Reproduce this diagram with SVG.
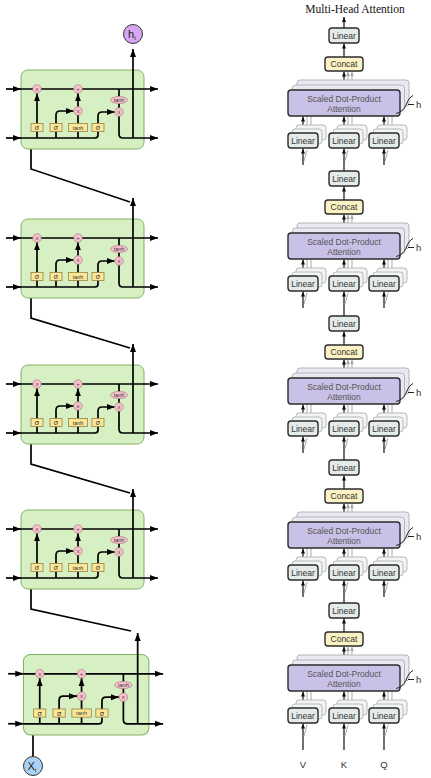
<svg xmlns="http://www.w3.org/2000/svg" width="431" height="778" viewBox="0 0 431 778">
<defs>
<marker id="a" viewBox="0 0 8 6" refX="8" refY="3" markerWidth="8" markerHeight="6.5" orient="auto" markerUnits="userSpaceOnUse"><path d="M0,0L8,3L0,6z" fill="#000"/></marker>
<marker id="s" viewBox="0 0 6 5" refX="6" refY="2.5" markerWidth="5" markerHeight="4.5" orient="auto" markerUnits="userSpaceOnUse"><path d="M0,0L6,2.5L0,5z" fill="#111"/></marker>
<marker id="g" viewBox="0 0 6 5" refX="6" refY="2.5" markerWidth="4.5" markerHeight="4" orient="auto" markerUnits="userSpaceOnUse"><path d="M0,0L6,2.5L0,5z" fill="#aaa"/></marker>
</defs>
<style>
.ln{fill:none;stroke:#000;stroke-width:1.7}
.cb{fill:#d7f0c3;stroke:#82b062;stroke-width:1}
.gb{fill:#fbe797;stroke:#9c8240;stroke-width:0.8}
.op{fill:#f5c3cd;stroke:#b27886;stroke-width:0.7}
.gt{font-family:"Liberation Sans",Arial,sans-serif;font-size:7px;fill:#222;text-anchor:middle}
.ot{font-family:"Liberation Sans",Arial,sans-serif;font-size:6px;fill:#6a3a44;text-anchor:middle}
.tt{font-family:"Liberation Sans",Arial,sans-serif;font-size:5.5px;fill:#333;text-anchor:middle}
.al{fill:none;stroke:#111;stroke-width:1.2}
.ag{fill:none;stroke:#aaa;stroke-width:1}
.lin{fill:#e4ebe8;stroke:#2b2b2b;stroke-width:1.4}
.linb{fill:#f3f5f4;stroke:#b8b8b8;stroke-width:1}
.cc{fill:#fbf3c3;stroke:#2b2b2b;stroke-width:1.4}
.att{fill:#c9c1e7;stroke:#2b2b2b;stroke-width:1.4}
.attb{fill:#ebe8f5;stroke:#b5b5b5;stroke-width:1}
.lt{font-family:"Liberation Sans",Arial,sans-serif;font-size:8.5px;fill:#333;text-anchor:middle}
.at{font-family:"Liberation Sans",Arial,sans-serif;font-size:8.5px;fill:#555;text-anchor:middle}
.hb{fill:none;stroke:#222;stroke-width:1}
.hl{font-family:"Liberation Sans",Arial,sans-serif;font-size:9.5px;fill:#333}
.ttl{font-family:"Liberation Serif","Times New Roman",serif;font-size:11.5px;fill:#111;text-anchor:middle}
.io{font-family:"Liberation Sans",Arial,sans-serif;font-size:11px;fill:#222}
</style>

<g id="connectors">
<path class="ln" d="M31,138V169L130,202"/>
<path class="ln" d="M31,287V318L130,348"/>
<path class="ln" d="M31,433V464L130,493"/>
<path class="ln" d="M31,578V609L131,631"/>
<path class="ln" d="M33,756.5V724"/>
<path class="al" d="M344,28V17" marker-end="url(#s)"/>
<path class="al" d="M344,171V148.6" marker-end="url(#s)"/>
<path class="al" d="M344,316V291.6" marker-end="url(#s)"/>
<path class="al" d="M344,460V436.6" marker-end="url(#s)"/>
<path class="al" d="M344,603V580.6" marker-end="url(#s)"/>
<path class="al" d="M303,750V723.6" marker-end="url(#s)"/>
<path class="al" d="M344,750V723.6" marker-end="url(#s)"/>
<path class="al" d="M384,750V723.6" marker-end="url(#s)"/>
<g id="mha1-links">
<path class="al" d="M344,57V43.6" marker-end="url(#s)"/><path class="al" d="M344,90V71.6" marker-end="url(#s)"/>
<path class="ag" d="M348,85V71.6" marker-end="url(#g)"/><path class="ag" d="M352,80V71.6" marker-end="url(#g)"/>
<path class="ag" d="M307,129V116M311,125V116M348,129V116M352,125V116M388,129V116M392,125V116M304,161L307,150M385,161L388,150M345,161L348,150"/>
<path class="al" d="M303,133V116.6" marker-end="url(#s)"/><path class="al" d="M344,133V116.6" marker-end="url(#s)"/><path class="al" d="M384,133V116.6" marker-end="url(#s)"/>
<path class="al" d="M303,165V148.6" marker-end="url(#s)"/><path class="al" d="M384,165V148.6" marker-end="url(#s)"/>
</g>
<g id="mha2-links" transform="translate(0,143)">
<path class="al" d="M344,57V43.6" marker-end="url(#s)"/><path class="al" d="M344,90V71.6" marker-end="url(#s)"/>
<path class="ag" d="M348,85V71.6" marker-end="url(#g)"/><path class="ag" d="M352,80V71.6" marker-end="url(#g)"/>
<path class="ag" d="M307,129V116M311,125V116M348,129V116M352,125V116M388,129V116M392,125V116M304,161L307,150M385,161L388,150M345,161L348,150"/>
<path class="al" d="M303,133V116.6" marker-end="url(#s)"/><path class="al" d="M344,133V116.6" marker-end="url(#s)"/><path class="al" d="M384,133V116.6" marker-end="url(#s)"/>
<path class="al" d="M303,165V148.6" marker-end="url(#s)"/><path class="al" d="M384,165V148.6" marker-end="url(#s)"/>
</g>
<g id="mha3-links" transform="translate(0,288)">
<path class="al" d="M344,57V43.6" marker-end="url(#s)"/><path class="al" d="M344,90V71.6" marker-end="url(#s)"/>
<path class="ag" d="M348,85V71.6" marker-end="url(#g)"/><path class="ag" d="M352,80V71.6" marker-end="url(#g)"/>
<path class="ag" d="M307,129V116M311,125V116M348,129V116M352,125V116M388,129V116M392,125V116M304,161L307,150M385,161L388,150M345,161L348,150"/>
<path class="al" d="M303,133V116.6" marker-end="url(#s)"/><path class="al" d="M344,133V116.6" marker-end="url(#s)"/><path class="al" d="M384,133V116.6" marker-end="url(#s)"/>
<path class="al" d="M303,165V148.6" marker-end="url(#s)"/><path class="al" d="M384,165V148.6" marker-end="url(#s)"/>
</g>
<g id="mha4-links" transform="translate(0,432)">
<path class="al" d="M344,57V43.6" marker-end="url(#s)"/><path class="al" d="M344,90V71.6" marker-end="url(#s)"/>
<path class="ag" d="M348,85V71.6" marker-end="url(#g)"/><path class="ag" d="M352,80V71.6" marker-end="url(#g)"/>
<path class="ag" d="M307,129V116M311,125V116M348,129V116M352,125V116M388,129V116M392,125V116M304,161L307,150M385,161L388,150M345,161L348,150"/>
<path class="al" d="M303,133V116.6" marker-end="url(#s)"/><path class="al" d="M344,133V116.6" marker-end="url(#s)"/><path class="al" d="M384,133V116.6" marker-end="url(#s)"/>
<path class="al" d="M303,165V148.6" marker-end="url(#s)"/><path class="al" d="M384,165V148.6" marker-end="url(#s)"/>
</g>
<g id="mha5-links" transform="translate(0,575)">
<path class="al" d="M344,57V43.6" marker-end="url(#s)"/><path class="al" d="M344,90V71.6" marker-end="url(#s)"/>
<path class="ag" d="M348,85V71.6" marker-end="url(#g)"/><path class="ag" d="M352,80V71.6" marker-end="url(#g)"/>
<path class="ag" d="M307,129V116M311,125V116M348,129V116M352,125V116M388,129V116M392,125V116M304,161L307,150M385,161L388,150M345,161L348,150"/>
<path class="al" d="M303,133V116.6" marker-end="url(#s)"/><path class="al" d="M344,133V116.6" marker-end="url(#s)"/><path class="al" d="M384,133V116.6" marker-end="url(#s)"/>
</g>
</g>

<g id="cell1">
<rect class="cb" x="21" y="70" width="123" height="79" rx="7"/>
<path class="ln" d="M6,89H21" marker-end="url(#a)"/>
<path class="ln" d="M21,89H158" marker-end="url(#a)"/>
<path class="ln" d="M6,138H21" marker-end="url(#a)"/>
<path class="ln" d="M21,138H95Q98,138 98,135V131.5M37,138V131.5M56,138V131.5M78,138V131.5M78,123.5V114.8M119,89V96.5M119,103.5V108.2"/>
<path class="ln" d="M37,123.5V93.3" marker-end="url(#a)"/>
<path class="ln" d="M56,123.5V115Q56,111 60,111H73.7" marker-end="url(#a)"/>
<path class="ln" d="M78,106.7V93.3" marker-end="url(#a)"/>
<path class="ln" d="M98,123.5V116Q98,112 102,112H114.7" marker-end="url(#a)"/>
<path class="ln" d="M119,115.8V134Q119,138 123,138H158" marker-end="url(#a)"/>
<path class="ln" d="M133,138V49" marker-end="url(#a)"/>
<circle class="op" cx="37" cy="89" r="4.2"/><text class="ot" x="37" y="91.2">x</text>
<circle class="op" cx="78" cy="89" r="4.2"/><text class="ot" x="78" y="91.2">+</text>
<circle class="op" cx="78" cy="111" r="4.2"/><text class="ot" x="78" y="113.2">x</text>
<circle class="op" cx="119" cy="112" r="4.2"/><text class="ot" x="119" y="114.2">x</text>
<ellipse class="op" cx="119" cy="100" rx="8.5" ry="3.5"/><text class="tt" x="119" y="102">tanh</text>
<rect class="gb" x="31" y="123.5" width="12" height="8"/><text class="gt" x="37" y="130">σ</text>
<rect class="gb" x="50" y="123.5" width="12" height="8"/><text class="gt" x="56" y="130">σ</text>
<rect class="gb" x="68.5" y="123.5" width="19" height="8"/><text class="tt" x="78" y="129.5">tanh</text>
<rect class="gb" x="92" y="123.5" width="12" height="8"/><text class="gt" x="98" y="130">σ</text>
</g>

<g id="cell2" transform="translate(0,149)">
<rect class="cb" x="21" y="70" width="123" height="79" rx="7"/>
<path class="ln" d="M6,89H21" marker-end="url(#a)"/>
<path class="ln" d="M21,89H158" marker-end="url(#a)"/>
<path class="ln" d="M6,138H21" marker-end="url(#a)"/>
<path class="ln" d="M21,138H95Q98,138 98,135V131.5M37,138V131.5M56,138V131.5M78,138V131.5M78,123.5V114.8M119,89V96.5M119,103.5V108.2"/>
<path class="ln" d="M37,123.5V93.3" marker-end="url(#a)"/>
<path class="ln" d="M56,123.5V115Q56,111 60,111H73.7" marker-end="url(#a)"/>
<path class="ln" d="M78,106.7V93.3" marker-end="url(#a)"/>
<path class="ln" d="M98,123.5V116Q98,112 102,112H114.7" marker-end="url(#a)"/>
<path class="ln" d="M119,115.8V134Q119,138 123,138H158" marker-end="url(#a)"/>
<path class="ln" d="M133,138V49" marker-end="url(#a)"/>
<circle class="op" cx="37" cy="89" r="4.2"/><text class="ot" x="37" y="91.2">x</text>
<circle class="op" cx="78" cy="89" r="4.2"/><text class="ot" x="78" y="91.2">+</text>
<circle class="op" cx="78" cy="111" r="4.2"/><text class="ot" x="78" y="113.2">x</text>
<circle class="op" cx="119" cy="112" r="4.2"/><text class="ot" x="119" y="114.2">x</text>
<ellipse class="op" cx="119" cy="100" rx="8.5" ry="3.5"/><text class="tt" x="119" y="102">tanh</text>
<rect class="gb" x="31" y="123.5" width="12" height="8"/><text class="gt" x="37" y="130">σ</text>
<rect class="gb" x="50" y="123.5" width="12" height="8"/><text class="gt" x="56" y="130">σ</text>
<rect class="gb" x="68.5" y="123.5" width="19" height="8"/><text class="tt" x="78" y="129.5">tanh</text>
<rect class="gb" x="92" y="123.5" width="12" height="8"/><text class="gt" x="98" y="130">σ</text>
</g>

<g id="cell3" transform="translate(0,295)">
<rect class="cb" x="21" y="70" width="123" height="79" rx="7"/>
<path class="ln" d="M6,89H21" marker-end="url(#a)"/>
<path class="ln" d="M21,89H158" marker-end="url(#a)"/>
<path class="ln" d="M6,138H21" marker-end="url(#a)"/>
<path class="ln" d="M21,138H95Q98,138 98,135V131.5M37,138V131.5M56,138V131.5M78,138V131.5M78,123.5V114.8M119,89V96.5M119,103.5V108.2"/>
<path class="ln" d="M37,123.5V93.3" marker-end="url(#a)"/>
<path class="ln" d="M56,123.5V115Q56,111 60,111H73.7" marker-end="url(#a)"/>
<path class="ln" d="M78,106.7V93.3" marker-end="url(#a)"/>
<path class="ln" d="M98,123.5V116Q98,112 102,112H114.7" marker-end="url(#a)"/>
<path class="ln" d="M119,115.8V134Q119,138 123,138H158" marker-end="url(#a)"/>
<path class="ln" d="M133,138V49" marker-end="url(#a)"/>
<circle class="op" cx="37" cy="89" r="4.2"/><text class="ot" x="37" y="91.2">x</text>
<circle class="op" cx="78" cy="89" r="4.2"/><text class="ot" x="78" y="91.2">+</text>
<circle class="op" cx="78" cy="111" r="4.2"/><text class="ot" x="78" y="113.2">x</text>
<circle class="op" cx="119" cy="112" r="4.2"/><text class="ot" x="119" y="114.2">x</text>
<ellipse class="op" cx="119" cy="100" rx="8.5" ry="3.5"/><text class="tt" x="119" y="102">tanh</text>
<rect class="gb" x="31" y="123.5" width="12" height="8"/><text class="gt" x="37" y="130">σ</text>
<rect class="gb" x="50" y="123.5" width="12" height="8"/><text class="gt" x="56" y="130">σ</text>
<rect class="gb" x="68.5" y="123.5" width="19" height="8"/><text class="tt" x="78" y="129.5">tanh</text>
<rect class="gb" x="92" y="123.5" width="12" height="8"/><text class="gt" x="98" y="130">σ</text>
</g>

<g id="cell4" transform="translate(0,440)">
<rect class="cb" x="21" y="70" width="123" height="79" rx="7"/>
<path class="ln" d="M6,89H21" marker-end="url(#a)"/>
<path class="ln" d="M21,89H158" marker-end="url(#a)"/>
<path class="ln" d="M6,138H21" marker-end="url(#a)"/>
<path class="ln" d="M21,138H95Q98,138 98,135V131.5M37,138V131.5M56,138V131.5M78,138V131.5M78,123.5V114.8M119,89V96.5M119,103.5V108.2"/>
<path class="ln" d="M37,123.5V93.3" marker-end="url(#a)"/>
<path class="ln" d="M56,123.5V115Q56,111 60,111H73.7" marker-end="url(#a)"/>
<path class="ln" d="M78,106.7V93.3" marker-end="url(#a)"/>
<path class="ln" d="M98,123.5V116Q98,112 102,112H114.7" marker-end="url(#a)"/>
<path class="ln" d="M119,115.8V134Q119,138 123,138H158" marker-end="url(#a)"/>
<path class="ln" d="M133,138V49" marker-end="url(#a)"/>
<circle class="op" cx="37" cy="89" r="4.2"/><text class="ot" x="37" y="91.2">x</text>
<circle class="op" cx="78" cy="89" r="4.2"/><text class="ot" x="78" y="91.2">+</text>
<circle class="op" cx="78" cy="111" r="4.2"/><text class="ot" x="78" y="113.2">x</text>
<circle class="op" cx="119" cy="112" r="4.2"/><text class="ot" x="119" y="114.2">x</text>
<ellipse class="op" cx="119" cy="100" rx="8.5" ry="3.5"/><text class="tt" x="119" y="102">tanh</text>
<rect class="gb" x="31" y="123.5" width="12" height="8"/><text class="gt" x="37" y="130">σ</text>
<rect class="gb" x="50" y="123.5" width="12" height="8"/><text class="gt" x="56" y="130">σ</text>
<rect class="gb" x="68.5" y="123.5" width="19" height="8"/><text class="tt" x="78" y="129.5">tanh</text>
<rect class="gb" x="92" y="123.5" width="12" height="8"/><text class="gt" x="98" y="130">σ</text>
</g>

<g id="cell5" transform="translate(2,583) scale(1.02)">
<rect class="cb" x="21" y="70" width="123" height="79" rx="7"/>
<path class="ln" d="M6,89H21" marker-end="url(#a)"/>
<path class="ln" d="M21,89H158" marker-end="url(#a)"/>
<path class="ln" d="M6,138H21" marker-end="url(#a)"/>
<path class="ln" d="M21,138H95Q98,138 98,135V131.5M37,138V131.5M56,138V131.5M78,138V131.5M78,123.5V114.8M119,89V96.5M119,103.5V108.2"/>
<path class="ln" d="M37,123.5V93.3" marker-end="url(#a)"/>
<path class="ln" d="M56,123.5V115Q56,111 60,111H73.7" marker-end="url(#a)"/>
<path class="ln" d="M78,106.7V93.3" marker-end="url(#a)"/>
<path class="ln" d="M98,123.5V116Q98,112 102,112H114.7" marker-end="url(#a)"/>
<path class="ln" d="M119,115.8V134Q119,138 123,138H158" marker-end="url(#a)"/>
<path class="ln" d="M133,138V49" marker-end="url(#a)"/>
<circle class="op" cx="37" cy="89" r="4.2"/><text class="ot" x="37" y="91.2">x</text>
<circle class="op" cx="78" cy="89" r="4.2"/><text class="ot" x="78" y="91.2">+</text>
<circle class="op" cx="78" cy="111" r="4.2"/><text class="ot" x="78" y="113.2">x</text>
<circle class="op" cx="119" cy="112" r="4.2"/><text class="ot" x="119" y="114.2">x</text>
<ellipse class="op" cx="119" cy="100" rx="8.5" ry="3.5"/><text class="tt" x="119" y="102">tanh</text>
<rect class="gb" x="31" y="123.5" width="12" height="8"/><text class="gt" x="37" y="130">σ</text>
<rect class="gb" x="50" y="123.5" width="12" height="8"/><text class="gt" x="56" y="130">σ</text>
<rect class="gb" x="68.5" y="123.5" width="19" height="8"/><text class="tt" x="78" y="129.5">tanh</text>
<rect class="gb" x="92" y="123.5" width="12" height="8"/><text class="gt" x="98" y="130">σ</text>
</g>

<g id="ht">
<circle cx="133" cy="34" r="9.5" fill="#d6a6f3" stroke="#333" stroke-width="1"/>
<text class="io" x="128" y="38">h<tspan font-size="6" dy="1.5">t</tspan></text>
</g>
<g id="xt">
<circle cx="33" cy="766" r="9.5" fill="#a9d2f4" stroke="#333" stroke-width="1"/>
<text class="io" x="27.5" y="770">X<tspan font-size="6" dy="1.5">t</tspan></text>
</g>

<g id="title"><text class="ttl" x="355" y="12.5">Multi-Head Attention</text></g>

<g id="mha1">
<g id="mha1-linear-out"><rect class="lin" x="329" y="28" width="30" height="15" rx="3"/><text class="lt" x="344" y="38.8">Linear</text></g>
<g id="mha1-concat"><rect class="cc" x="325" y="57" width="38" height="14" rx="3"/><text class="lt" x="344" y="67.2">Concat</text></g>
<g id="mha1-attention"><rect class="attb" x="297" y="80" width="112" height="26" rx="3"/><rect class="attb" x="292.5" y="85" width="112" height="26" rx="3"/><rect class="att" x="288" y="90" width="112" height="26" rx="3"/><text class="at" x="344" y="101.5">Scaled Dot-Product</text><text class="at" x="344" y="112">Attention</text></g>
<g id="mha1-h"><path class="hb" d="M396,113.5C402,112 405,108 406.5,104C408,100 410,97 413,95.5M408,104.5H414"/><text class="hl" x="416" y="107.5">h</text></g>
<g id="mha1-linear-v"><rect class="linb" x="296" y="125" width="30" height="15" rx="3"/><rect class="linb" x="292" y="129" width="30" height="15" rx="3"/><rect class="lin" x="288" y="133" width="30" height="15" rx="3"/><text class="lt" x="303" y="143.8">Linear</text></g>
<g id="mha1-linear-k"><rect class="linb" x="337" y="125" width="30" height="15" rx="3"/><rect class="linb" x="333" y="129" width="30" height="15" rx="3"/><rect class="lin" x="329" y="133" width="30" height="15" rx="3"/><text class="lt" x="344" y="143.8">Linear</text></g>
<g id="mha1-linear-q"><rect class="linb" x="377" y="125" width="30" height="15" rx="3"/><rect class="linb" x="373" y="129" width="30" height="15" rx="3"/><rect class="lin" x="369" y="133" width="30" height="15" rx="3"/><text class="lt" x="384" y="143.8">Linear</text></g>
</g>

<g id="mha2" transform="translate(0,143)">
<g id="mha2-linear-out"><rect class="lin" x="329" y="28" width="30" height="15" rx="3"/><text class="lt" x="344" y="38.8">Linear</text></g>
<g id="mha2-concat"><rect class="cc" x="325" y="57" width="38" height="14" rx="3"/><text class="lt" x="344" y="67.2">Concat</text></g>
<g id="mha2-attention"><rect class="attb" x="297" y="80" width="112" height="26" rx="3"/><rect class="attb" x="292.5" y="85" width="112" height="26" rx="3"/><rect class="att" x="288" y="90" width="112" height="26" rx="3"/><text class="at" x="344" y="101.5">Scaled Dot-Product</text><text class="at" x="344" y="112">Attention</text></g>
<g id="mha2-h"><path class="hb" d="M396,113.5C402,112 405,108 406.5,104C408,100 410,97 413,95.5M408,104.5H414"/><text class="hl" x="416" y="107.5">h</text></g>
<g id="mha2-linear-v"><rect class="linb" x="296" y="125" width="30" height="15" rx="3"/><rect class="linb" x="292" y="129" width="30" height="15" rx="3"/><rect class="lin" x="288" y="133" width="30" height="15" rx="3"/><text class="lt" x="303" y="143.8">Linear</text></g>
<g id="mha2-linear-k"><rect class="linb" x="337" y="125" width="30" height="15" rx="3"/><rect class="linb" x="333" y="129" width="30" height="15" rx="3"/><rect class="lin" x="329" y="133" width="30" height="15" rx="3"/><text class="lt" x="344" y="143.8">Linear</text></g>
<g id="mha2-linear-q"><rect class="linb" x="377" y="125" width="30" height="15" rx="3"/><rect class="linb" x="373" y="129" width="30" height="15" rx="3"/><rect class="lin" x="369" y="133" width="30" height="15" rx="3"/><text class="lt" x="384" y="143.8">Linear</text></g>
</g>

<g id="mha3" transform="translate(0,288)">
<g id="mha3-linear-out"><rect class="lin" x="329" y="28" width="30" height="15" rx="3"/><text class="lt" x="344" y="38.8">Linear</text></g>
<g id="mha3-concat"><rect class="cc" x="325" y="57" width="38" height="14" rx="3"/><text class="lt" x="344" y="67.2">Concat</text></g>
<g id="mha3-attention"><rect class="attb" x="297" y="80" width="112" height="26" rx="3"/><rect class="attb" x="292.5" y="85" width="112" height="26" rx="3"/><rect class="att" x="288" y="90" width="112" height="26" rx="3"/><text class="at" x="344" y="101.5">Scaled Dot-Product</text><text class="at" x="344" y="112">Attention</text></g>
<g id="mha3-h"><path class="hb" d="M396,113.5C402,112 405,108 406.5,104C408,100 410,97 413,95.5M408,104.5H414"/><text class="hl" x="416" y="107.5">h</text></g>
<g id="mha3-linear-v"><rect class="linb" x="296" y="125" width="30" height="15" rx="3"/><rect class="linb" x="292" y="129" width="30" height="15" rx="3"/><rect class="lin" x="288" y="133" width="30" height="15" rx="3"/><text class="lt" x="303" y="143.8">Linear</text></g>
<g id="mha3-linear-k"><rect class="linb" x="337" y="125" width="30" height="15" rx="3"/><rect class="linb" x="333" y="129" width="30" height="15" rx="3"/><rect class="lin" x="329" y="133" width="30" height="15" rx="3"/><text class="lt" x="344" y="143.8">Linear</text></g>
<g id="mha3-linear-q"><rect class="linb" x="377" y="125" width="30" height="15" rx="3"/><rect class="linb" x="373" y="129" width="30" height="15" rx="3"/><rect class="lin" x="369" y="133" width="30" height="15" rx="3"/><text class="lt" x="384" y="143.8">Linear</text></g>
</g>

<g id="mha4" transform="translate(0,432)">
<g id="mha4-linear-out"><rect class="lin" x="329" y="28" width="30" height="15" rx="3"/><text class="lt" x="344" y="38.8">Linear</text></g>
<g id="mha4-concat"><rect class="cc" x="325" y="57" width="38" height="14" rx="3"/><text class="lt" x="344" y="67.2">Concat</text></g>
<g id="mha4-attention"><rect class="attb" x="297" y="80" width="112" height="26" rx="3"/><rect class="attb" x="292.5" y="85" width="112" height="26" rx="3"/><rect class="att" x="288" y="90" width="112" height="26" rx="3"/><text class="at" x="344" y="101.5">Scaled Dot-Product</text><text class="at" x="344" y="112">Attention</text></g>
<g id="mha4-h"><path class="hb" d="M396,113.5C402,112 405,108 406.5,104C408,100 410,97 413,95.5M408,104.5H414"/><text class="hl" x="416" y="107.5">h</text></g>
<g id="mha4-linear-v"><rect class="linb" x="296" y="125" width="30" height="15" rx="3"/><rect class="linb" x="292" y="129" width="30" height="15" rx="3"/><rect class="lin" x="288" y="133" width="30" height="15" rx="3"/><text class="lt" x="303" y="143.8">Linear</text></g>
<g id="mha4-linear-k"><rect class="linb" x="337" y="125" width="30" height="15" rx="3"/><rect class="linb" x="333" y="129" width="30" height="15" rx="3"/><rect class="lin" x="329" y="133" width="30" height="15" rx="3"/><text class="lt" x="344" y="143.8">Linear</text></g>
<g id="mha4-linear-q"><rect class="linb" x="377" y="125" width="30" height="15" rx="3"/><rect class="linb" x="373" y="129" width="30" height="15" rx="3"/><rect class="lin" x="369" y="133" width="30" height="15" rx="3"/><text class="lt" x="384" y="143.8">Linear</text></g>
</g>

<g id="mha5" transform="translate(0,575)">
<g id="mha5-linear-out"><rect class="lin" x="329" y="28" width="30" height="15" rx="3"/><text class="lt" x="344" y="38.8">Linear</text></g>
<g id="mha5-concat"><rect class="cc" x="325" y="57" width="38" height="14" rx="3"/><text class="lt" x="344" y="67.2">Concat</text></g>
<g id="mha5-attention"><rect class="attb" x="297" y="80" width="112" height="26" rx="3"/><rect class="attb" x="292.5" y="85" width="112" height="26" rx="3"/><rect class="att" x="288" y="90" width="112" height="26" rx="3"/><text class="at" x="344" y="101.5">Scaled Dot-Product</text><text class="at" x="344" y="112">Attention</text></g>
<g id="mha5-h"><path class="hb" d="M396,113.5C402,112 405,108 406.5,104C408,100 410,97 413,95.5M408,104.5H414"/><text class="hl" x="416" y="107.5">h</text></g>
<g id="mha5-linear-v"><rect class="linb" x="296" y="125" width="30" height="15" rx="3"/><rect class="linb" x="292" y="129" width="30" height="15" rx="3"/><rect class="lin" x="288" y="133" width="30" height="15" rx="3"/><text class="lt" x="303" y="143.8">Linear</text></g>
<g id="mha5-linear-k"><rect class="linb" x="337" y="125" width="30" height="15" rx="3"/><rect class="linb" x="333" y="129" width="30" height="15" rx="3"/><rect class="lin" x="329" y="133" width="30" height="15" rx="3"/><text class="lt" x="344" y="143.8">Linear</text></g>
<g id="mha5-linear-q"><rect class="linb" x="377" y="125" width="30" height="15" rx="3"/><rect class="linb" x="373" y="129" width="30" height="15" rx="3"/><rect class="lin" x="369" y="133" width="30" height="15" rx="3"/><text class="lt" x="384" y="143.8">Linear</text></g>
</g>

<g id="inputs">
<text class="hl" x="303" y="768" text-anchor="middle">V</text>
<text class="hl" x="344" y="768" text-anchor="middle">K</text>
<text class="hl" x="384" y="768" text-anchor="middle">Q</text>
</g>
</svg>
